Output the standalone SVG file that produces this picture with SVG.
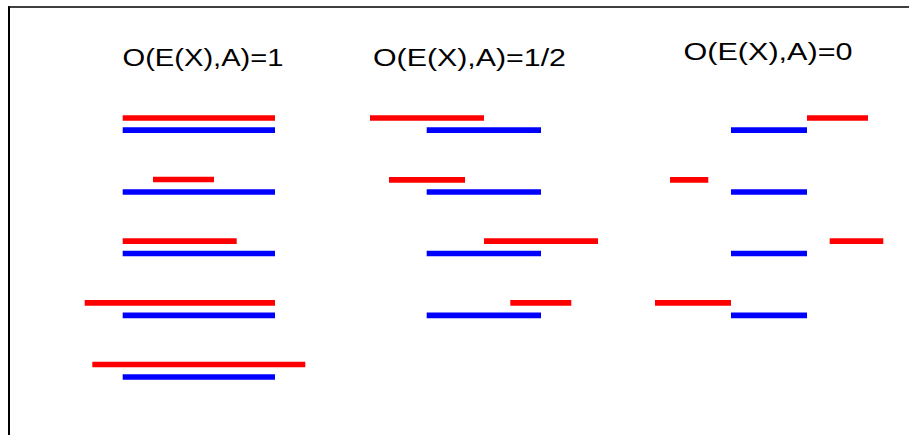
<svg xmlns="http://www.w3.org/2000/svg" width="909" height="435" viewBox="0 0 909 435">
  <style>
    .title { font-family: "Liberation Sans", Arial, sans-serif; font-size: 23.5px; fill: #000; }
    .a { stroke: #ff0000; stroke-width: 5.7; stroke-linecap: butt; fill: none; }
    .e { stroke: #0000ff; stroke-width: 5.7; stroke-linecap: butt; fill: none; }
    .frame { stroke: #000; fill: none; }
  </style>
  <rect width="909" height="435" fill="#fff"/>

  <!-- axes frame: only the left and top edges are visible -->
  <g id="frame">
    <line class="frame" x1="9" y1="6.3" x2="9" y2="435" stroke-width="2"/>
    <line class="frame" x1="8" y1="7" x2="909" y2="7" stroke-width="1.6"/>
  </g>

  <!-- full overlap: A lies over E -->
  <g id="overlap-one">
    <text class="title" x="122.5" y="66" textLength="161" lengthAdjust="spacingAndGlyphs">O(E(X),A)=1</text>
    <line class="a" x1="122.7" y1="118" x2="275" y2="118"/>
    <line class="e" x1="122.7" y1="130.2" x2="275" y2="130.2"/>
    <line class="a" x1="153" y1="179.5" x2="214" y2="179.5"/>
    <line class="e" x1="122.7" y1="192" x2="275" y2="192"/>
    <line class="a" x1="122.7" y1="241.2" x2="236.7" y2="241.2"/>
    <line class="e" x1="122.7" y1="253.5" x2="275" y2="253.5"/>
    <line class="a" x1="84.7" y1="302.8" x2="275" y2="302.8"/>
    <line class="e" x1="122.7" y1="315.3" x2="275" y2="315.3"/>
    <line class="a" x1="92.3" y1="364.5" x2="305.3" y2="364.5"/>
    <line class="e" x1="122.7" y1="377" x2="275" y2="377"/>
  </g>

  <!-- partial overlap -->
  <g id="overlap-half">
    <text class="title" x="373" y="66" textLength="193" lengthAdjust="spacingAndGlyphs">O(E(X),A)=1/2</text>
    <line class="a" x1="370" y1="118" x2="484" y2="118"/>
    <line class="e" x1="426.7" y1="130.2" x2="541" y2="130.2"/>
    <line class="a" x1="389" y1="179.8" x2="465" y2="179.8"/>
    <line class="e" x1="426.7" y1="192" x2="541" y2="192"/>
    <line class="a" x1="484" y1="241.2" x2="598" y2="241.2"/>
    <line class="e" x1="426.7" y1="253.5" x2="541" y2="253.5"/>
    <line class="a" x1="510.3" y1="302.8" x2="571.3" y2="302.8"/>
    <line class="e" x1="426.7" y1="315.3" x2="541" y2="315.3"/>
  </g>

  <!-- no overlap -->
  <g id="overlap-zero">
    <text class="title" x="683.5" y="60" textLength="169" lengthAdjust="spacingAndGlyphs">O(E(X),A)=0</text>
    <line class="a" x1="807" y1="118" x2="868" y2="118"/>
    <line class="e" x1="731" y1="130.2" x2="807" y2="130.2"/>
    <line class="a" x1="670" y1="179.8" x2="708.3" y2="179.8"/>
    <line class="e" x1="731" y1="192" x2="807" y2="192"/>
    <line class="a" x1="829.7" y1="241.2" x2="883.3" y2="241.2"/>
    <line class="e" x1="731" y1="253.5" x2="807" y2="253.5"/>
    <line class="a" x1="655" y1="302.8" x2="731" y2="302.8"/>
    <line class="e" x1="731" y1="315.3" x2="807" y2="315.3"/>
  </g>
</svg>
